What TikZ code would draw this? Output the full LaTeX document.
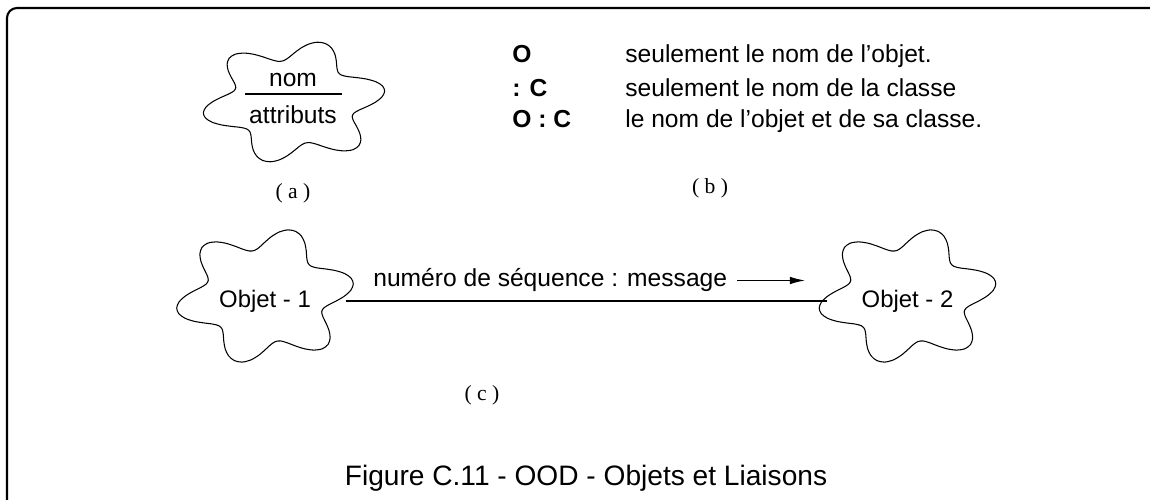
\documentclass[tikz,border=0pt]{standalone}
\usepackage{fontspec}
\setmainfont{Liberation Sans}
\newfontfamily\labelfont{Liberation Serif}
\usepackage{tikz}
\usetikzlibrary{shapes.geometric, arrows.meta, positioning, calc}

\begin{document}
\begin{tikzpicture}[
	txt/.style={font=\fontsize{14}{17}\selectfont, inner sep=0pt},
	sub/.style={font=\labelfont\fontsize{12.3}{14}\selectfont, inner sep=0pt},
	objet/.style={ellipse, minimum width=3.22cm, minimum height=2.4cm, inner sep=0pt, font=\fontsize{13.6}{16}\selectfont},
	pics/blob/.style n args={3}{code={
		\draw[line width=0.6pt] plot[smooth cycle, domain=0:355, samples=72, variable=\t]
			({#1*(1+0.2*cos(6*\t+#3))*cos(\t)}, {#2*(1+0.2*cos(6*\t+#3))*sin(\t)});
	}},
	arrow/.style={-{Latex[length=3mm,width=1.5mm]}, line width=0.6pt}
]
\useasboundingbox (0,0) rectangle (23,10);

% cadre
\draw[line width=1.2pt, rounded corners=0.2cm] (0.14,0) -- (0.14,9.84) -- (23,9.84);

% (a) nom / attributs
\pic at (5.88,7.96) {blob={1.54}{1.04}{-72}};
\node[txt] (nom) at (5.86,8.4) {nom};
\node[txt] (attr) at (5.86,7.7) {attributs};
\draw[line width=0.6pt] (4.9,8.12) -- (6.84,8.12);
\node[sub] (la) at (5.86,6.14) {( a )};

% (b) notations
\node[txt, anchor=base west] (o) at (10.24,8.74) {\textbf{O}};
\node[txt, anchor=base west] (c) at (10.24,8.06) {\textbf{: C}};
\node[txt, anchor=base west] (oc) at (10.24,7.44) {\textbf{O : C}};
\node[txt, anchor=base west] (d1) at (12.5,8.74) {seulement le nom de l’objet.};
\node[txt, anchor=base west] (d2) at (12.5,8.06) {seulement le nom de la classe};
\node[txt, anchor=base west] (d3) at (12.5,7.44) {le nom de l’objet et de sa classe.};
\node[sub] (lb) at (14.2,6.24) {( b )};

% (c) liaison entre objets
\pic at (5.3,4.08) {blob={1.5}{1.15}{-72}};
\pic at (18.15,4.08) {blob={1.5}{1.15}{-72}};
\node[objet] (o1) at (5.3,3.98) {Objet - 1};
\node[objet] (o2) at (18.15,3.98) {Objet - 2};
\draw[line width=0.6pt] (o1) -- (o2);

\node[txt, anchor=base west] (msg) at (7.46,4.26) {numéro de séquence : message};
\coordinate[right=1.55cm of msg.east] (tip);
\draw[arrow] ([xshift=2mm]msg.east) -- (tip);
\node[sub] (lc) at (9.64,2.1) {( c )};

% legende
\node[font=\fontsize{16}{19}\selectfont] (fig) at (11.72,0.44) {Figure C.11 - OOD - Objets et Liaisons};

\end{tikzpicture}
\end{document}
